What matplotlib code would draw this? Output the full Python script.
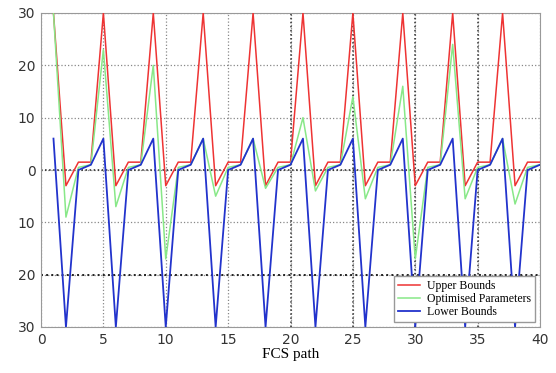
import matplotlib
matplotlib.use("Agg")
import matplotlib.pyplot as plt
from matplotlib.ticker import FuncFormatter

# FCS path index
path = list(range(1, 41))

# Upper bounds
upper = [30, -3, 1.5, 1.5, 30, -3, 1.5, 1.5, 30, -3,
         1.5, 1.5, 30, -3, 1.5, 1.5, 30, -3, 1.5, 1.5,
         30, -3, 1.5, 1.5, 30, -3, 1.5, 1.5, 30, -3,
         1.5, 1.5, 30, -3, 1.5, 1.5, 30, -3, 1.5, 1.5]

# Optimised parameters
optimised = [30, -9, 0.5, 1, 23, -7, 0.5, 1, 20, -17,
             0.5, 1, 6, -5, 0.5, 1, 6, -3.5, 0.5, 1,
             10, -4, 0.5, 1, 14, -5.5, 0.5, 1, 16, -17,
             0.5, 1, 24, -5.5, 0.5, 1, 6, -6.5, 0.5, 1]

# Lower bounds
lower = [6, -30, 0, 1, 6, -30, 0, 1, 6, -30,
         0, 1, 6, -30, 0, 1, 6, -30, 0, 1,
         6, -30, 0, 1, 6, -30, 0, 1, 6, -30,
         0, 1, 6, -30, 0, 1, 6, -30, 0, 1]

xticks = [0, 5, 10, 15, 20, 25, 30, 35, 40]
yticks = [-30, -20, -10, 0, 10, 20, 30]

fig = plt.figure(figsize=(5.56, 3.73), dpi=100)
ax = fig.add_axes([41/556, 1 - 327/373, 499/556, 314/373])

ax.plot(path, upper, color='#ee3333', lw=1.1, label='Upper Bounds', zorder=3)
ax.plot(path, optimised, color='#88e888', lw=1.1, label='Optimised Parameters', zorder=4)
ax.plot(path, lower, color='#2233cc', lw=1.3, label='Lower Bounds', zorder=5)

ax.set_xlim(0, 40)
ax.set_ylim(-30, 30)
ax.set_xticks(xticks)
ax.set_yticks(yticks)
ax.yaxis.set_major_formatter(FuncFormatter(lambda v, p: '%d' % abs(v)))

# dotted grid, some lines darker as in the original
ax.grid(True, color='#888888', linestyle=':', linewidth=0.9)
ax.axhline(0, color='#222222', linestyle=':', linewidth=1.1, zorder=2)
ax.axhline(-20, color='#222222', linestyle=':', linewidth=1.4, zorder=2)
for xv in [20, 25, 30, 35]:
    ax.axvline(xv, color='#333333', linestyle=':', linewidth=1.1, zorder=2)

for s in ax.spines.values():
    s.set_color('#999999')
ax.tick_params(length=0, labelsize=10, labelcolor='#333333', pad=4)

ax.set_xlabel('FCS path', family='Liberation Serif', fontsize=11, labelpad=1)

leg = ax.legend(loc='lower right', prop={'family': 'Liberation Serif', 'size': 8.5},
                fancybox=False, framealpha=1, edgecolor='#999999',
                borderaxespad=0.4, handlelength=1.9, handletextpad=0.6,
                labelspacing=0.1, borderpad=0.35)
leg.set_zorder(10)

fig.savefig('out.png', dpi=100)
